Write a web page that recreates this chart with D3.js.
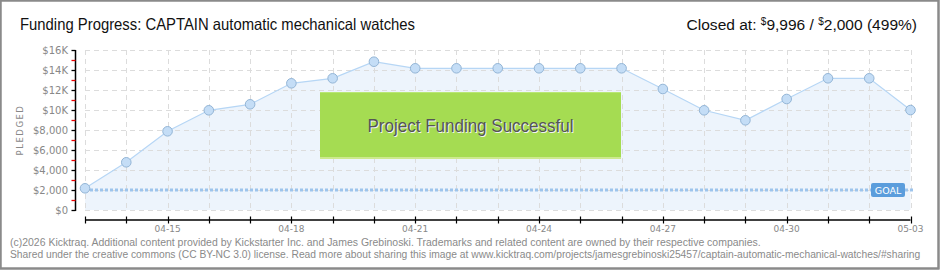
<!DOCTYPE html>
<html><head><meta charset="utf-8">
<script src="https://cdn.jsdelivr.net/npm/d3@7"></script>
<style>
html,body{margin:0;padding:0;background:#fff;}
svg{display:block;}
</style></head>
<body>
<svg id="c" width="940" height="270"></svg>
<script>
const dates = ["04-13","04-14","04-15","04-16","04-17","04-18","04-19","04-20","04-21","04-22","04-23","04-24","04-25","04-26","04-27","04-28","04-29","04-30","05-01","05-02","05-03"];
const pledged = [2170,4770,7870,9970,10570,12670,13170,14830,14170,14170,14170,14170,14170,14170,12100,9970,8970,11100,13170,13170,9996];
const goal = 2000;
const yTicks = [0,2000,4000,6000,8000,10000,12000,14000,16000];
const yTickLabels = ["$0","$2,000","$4,000","$6,000","$8,000","$10K","$12K","$14K","$16K"];
const xLabelDates = ["04-15","04-18","04-21","04-24","04-27","04-30","05-03"];
const titleText = "Funding Progress: CAPTAIN automatic mechanical watches";
const footer1 = "(c)2026 Kicktraq. Additional content provided by Kickstarter Inc. and James Grebinoski. Trademarks and related content are owned by their respective companies.";
const footer2 = "Shared under the creative commons (CC BY-NC 3.0) license. Read more about sharing this image at www.kicktraq.com/projects/jamesgrebinoski25457/captain-automatic-mechanical-watches/#sharing";

const svg = d3.select("#c");
const x = d3.scalePoint().domain(dates).range([85, 910.5]);
const y = d3.scaleLinear().domain([0, 16000]).range([210, 50]);

svg.append("rect").attr("x",0.5).attr("y",0.5).attr("width",938).attr("height",268)
  .attr("fill","#fff").attr("stroke","#8a8a8a").attr("stroke-width",2);

const area = d3.area().x((d,i)=>x(dates[i])).y0(y(0)).y1(d=>y(d));
svg.append("path").datum(pledged).attr("d",area).attr("fill","#edf4fc");

const g = svg.append("g");
g.selectAll(".hg").data(yTicks).enter().append("line")
  .attr("x1",x(dates[0])).attr("x2",x(dates[dates.length-1]))
  .attr("y1",d=>y(d)+0.5).attr("y2",d=>y(d)+0.5)
  .attr("stroke","#dcdcdc").attr("stroke-dasharray","5,4");
g.selectAll(".vg").data(dates).enter().append("line")
  .attr("x1",d=>Math.round(x(d))+0.5).attr("x2",d=>Math.round(x(d))+0.5)
  .attr("y1",y(16000)).attr("y2",y(0))
  .attr("stroke","#dcdcdc").attr("stroke-dasharray","5,4");

const bx = 320, bw = 301, by = 92, bh = 66;
svg.append("rect").attr("x",bx).attr("y",by).attr("width",bw).attr("height",bh).attr("fill","#a5dc52");
svg.append("rect").attr("x",bx).attr("y",by+bh-1).attr("width",bw).attr("height",2).attr("fill","#cde98f");
svg.append("rect").attr("x",bx).attr("y",by).attr("width",bw).attr("height",1).attr("fill","#b9e774");
const st = "Project Funding Successful";
svg.append("text").attr("x",bx+bw/2+1).attr("y",by+41).attr("text-anchor","middle")
  .attr("font-family","'Liberation Sans Narrow','Liberation Sans',sans-serif").attr("font-size",19)
  .attr("fill","#f2f2f2").attr("textLength",206).attr("lengthAdjust","spacingAndGlyphs").text(st);
svg.append("text").attr("x",bx+bw/2).attr("y",by+40).attr("text-anchor","middle")
  .attr("font-family","'Liberation Sans Narrow','Liberation Sans',sans-serif").attr("font-size",19)
  .attr("fill","#555").attr("textLength",206).attr("lengthAdjust","spacingAndGlyphs").text(st);

svg.append("line").attr("x1",x(dates[0])).attr("x2",913).attr("y1",y(goal)).attr("y2",y(goal))
  .attr("stroke","#9dc4ec").attr("stroke-width",3).attr("stroke-dasharray","3,2");

const line = d3.line().x((d,i)=>x(dates[i])).y(d=>y(d));
svg.append("path").datum(pledged).attr("d",line).attr("fill","none").attr("stroke","#b6d6f5").attr("stroke-width",1.2);
svg.selectAll(".pt").data(pledged).enter().append("circle")
  .attr("cx",(d,i)=>x(dates[i])).attr("cy",d=>y(d)).attr("r",4.8)
  .attr("fill","#c4ddf6").attr("stroke","#93b5d6").attr("stroke-width",1);

svg.append("rect").attr("x",871).attr("y",183).attr("width",34).attr("height",14).attr("rx",2).attr("fill","#5b9ddc");
svg.append("text").attr("x",888).attr("y",194).attr("text-anchor","middle")
  .attr("font-family","'DejaVu Sans',sans-serif").attr("font-size",9.5).attr("fill","#fff").text("GOAL");

const ax = 75.5;
svg.append("line").attr("x1",ax).attr("x2",ax).attr("y1",y(16000)).attr("y2",y(0)+1).attr("stroke","#000").attr("stroke-width",1.5);
svg.selectAll(".ymaj").data(yTicks).enter().append("line")
  .attr("x1",ax-4).attr("x2",ax).attr("y1",d=>y(d)+0.5).attr("y2",d=>y(d)+0.5).attr("stroke","#000").attr("stroke-width",1.3);
svg.selectAll(".ymin").data(d3.range(1000,16000,2000)).enter().append("line")
  .attr("x1",ax-4).attr("x2",ax).attr("y1",d=>y(d)+0.5).attr("y2",d=>y(d)+0.5).attr("stroke","#e00").attr("stroke-width",1.3);
svg.selectAll(".ylab").data(yTicks).enter().append("text")
  .attr("x",68).attr("y",d=>y(d)+4).attr("text-anchor","end")
  .attr("font-family","'DejaVu Sans',sans-serif").attr("font-size",10).attr("fill","#888")
  .text((d,i)=>yTickLabels[i]);
svg.append("text").attr("transform","translate(23,130) rotate(-90)").attr("text-anchor","middle")
  .attr("font-family","'DejaVu Sans',sans-serif").attr("font-size",8.5).attr("letter-spacing",1.5).attr("fill","#888").text("PLEDGED");

const xa = 220;
svg.append("line").attr("x1",x(dates[0])).attr("x2",x(dates[dates.length-1])).attr("y1",xa).attr("y2",xa).attr("stroke","#000").attr("stroke-width",1.5);
svg.selectAll(".xt").data(dates).enter().append("line")
  .attr("x1",d=>Math.round(x(d))+0.5).attr("x2",d=>Math.round(x(d))+0.5).attr("y1",xa-3.5).attr("y2",xa+3.5)
  .attr("stroke","#000").attr("stroke-width",1.2);
svg.selectAll(".xl").data(xLabelDates).enter().append("text")
  .attr("x",d=>x(d)).attr("y",232).attr("text-anchor","middle")
  .attr("font-family","'DejaVu Sans',sans-serif").attr("font-size",9).attr("fill","#888").text(d=>d);

svg.append("text").attr("x",20).attr("y",29.5)
  .attr("font-family","'Liberation Sans Narrow','Liberation Sans',sans-serif").attr("font-size",16.5)
  .attr("fill","#111").attr("textLength",395).attr("lengthAdjust","spacingAndGlyphs").text(titleText);

const rh = svg.append("text").attr("x",917).attr("y",29.5).attr("text-anchor","end")
  .attr("font-family","'Liberation Sans Narrow','Liberation Sans',sans-serif").attr("font-size",16.5).attr("fill","#111");
rh.append("tspan").text("Closed at: ");
rh.append("tspan").attr("font-size",10).attr("dy",-5).text("$");
rh.append("tspan").attr("dy",5).text("9,996 / ");
rh.append("tspan").attr("font-size",10).attr("dy",-5).text("$");
rh.append("tspan").attr("dy",5).text("2,000 (499%)");
const rw = rh.node().getComputedTextLength();
rh.attr("font-size",16.5*230/rw);

const ff = "'Liberation Sans',sans-serif";
const f1 = svg.append("text").attr("x",10).attr("y",246)
  .attr("font-family",ff).attr("font-size",10).attr("fill","#8a8a8a").text(footer1);
const f2 = svg.append("text").attr("x",10).attr("y",258)
  .attr("font-family",ff).attr("font-size",10).attr("fill","#8a8a8a").text(footer2);
const w1 = f1.node().getComputedTextLength(), w2 = f2.node().getComputedTextLength();
f1.attr("font-size", 10*752/w1);
f2.attr("font-size", 10*912/w2);

svg.append("rect").attr("x",0.5).attr("y",0.5).attr("width",938).attr("height",268)
  .attr("fill","none").attr("stroke","#8a8a8a").attr("stroke-width",2);
</script>
</body></html>
